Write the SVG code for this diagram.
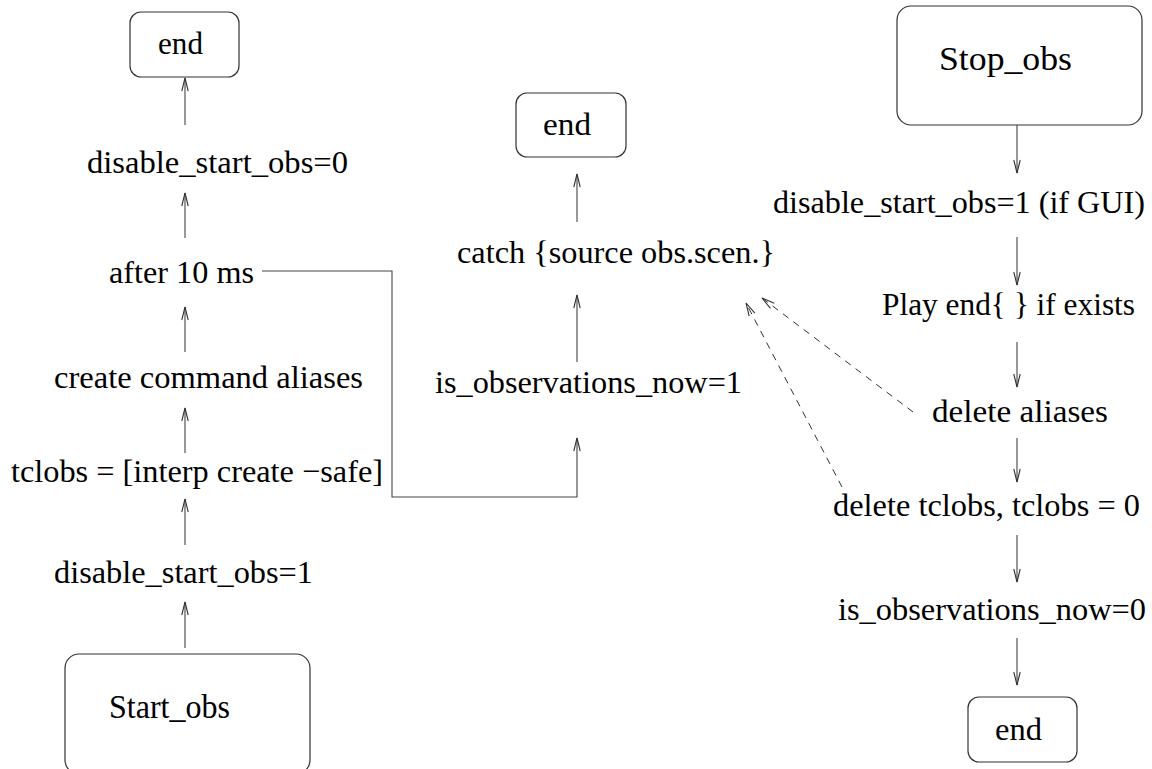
<svg xmlns="http://www.w3.org/2000/svg" width="1152" height="769" viewBox="0 0 1152 769">
<defs>
<style>
.box{fill:none;stroke:#333;stroke-width:1.2}
.t{font-family:'Liberation Serif','Times New Roman',serif;font-size:32px;fill:#000}
.tb{font-family:'Liberation Serif','Times New Roman',serif;font-size:34px;fill:#000}
.c{fill:none;stroke:#444;stroke-width:1.1}
.d{fill:none;stroke:#333;stroke-width:1;stroke-dasharray:7 6}
</style>
<marker id="ah" markerUnits="userSpaceOnUse" markerWidth="16" markerHeight="10" viewBox="-14 -5 16 10" refX="0" refY="0" orient="auto" overflow="visible">
<path d="M-13,-3.2 L0,0 L-13,3.2" fill="none" stroke="#333" stroke-width="1.1"/>
</marker>
</defs>
<rect width="1152" height="769" fill="#fff"/>
<g id="end_left"><rect class="box" x="130" y="12" width="109" height="65" rx="11"/><text class="t" x="158" y="54" textLength="45" lengthAdjust="spacingAndGlyphs">end</text></g>
<g id="n_dso0"><text class="t" x="87" y="173" textLength="261" lengthAdjust="spacingAndGlyphs">disable_start_obs=0</text></g>
<g id="n_after"><text class="t" x="109" y="283" textLength="145" lengthAdjust="spacingAndGlyphs">after 10 ms</text></g>
<g id="n_create"><text class="t" x="54" y="388" textLength="309" lengthAdjust="spacingAndGlyphs">create command aliases</text></g>
<g id="n_tclobs"><text class="t" x="11" y="482" textLength="372" lengthAdjust="spacingAndGlyphs">tclobs = [interp create −safe]</text></g>
<g id="n_dso1"><text class="t" x="54" y="583" textLength="259" lengthAdjust="spacingAndGlyphs">disable_start_obs=1</text></g>
<g id="start_obs"><rect class="box" x="65" y="654" width="245" height="120" rx="14"/><text class="tb" x="109" y="718" textLength="121" lengthAdjust="spacingAndGlyphs">Start_obs</text></g>

<g id="end_mid"><rect class="box" x="516" y="93" width="110" height="64" rx="11"/><text class="t" x="543" y="135" textLength="48" lengthAdjust="spacingAndGlyphs">end</text></g>
<g id="n_catch"><text class="t" x="457" y="263" textLength="318" lengthAdjust="spacingAndGlyphs">catch {source obs.scen.}</text></g>
<g id="n_isobs1"><text class="t" x="435" y="393" textLength="307" lengthAdjust="spacingAndGlyphs">is_observations_now=1</text></g>

<g id="stop_obs"><rect class="box" x="897" y="6" width="245" height="119" rx="14"/><text class="tb" x="939" y="70" textLength="133" lengthAdjust="spacingAndGlyphs">Stop_obs</text></g>
<g id="n_dsogui"><text class="t" x="773" y="213" textLength="372" lengthAdjust="spacingAndGlyphs">disable_start_obs=1 (if GUI)</text></g>
<g id="n_play"><text class="t" x="882" y="315" textLength="253" lengthAdjust="spacingAndGlyphs">Play end{ } if exists</text></g>
<g id="n_delal"><text class="t" x="932" y="422" textLength="176" lengthAdjust="spacingAndGlyphs">delete aliases</text></g>
<g id="n_deltcl"><text class="t" x="833" y="516" textLength="307" lengthAdjust="spacingAndGlyphs">delete tclobs, tclobs = 0</text></g>
<g id="n_isobs0"><text class="t" x="838" y="620" textLength="308" lengthAdjust="spacingAndGlyphs">is_observations_now=0</text></g>
<g id="end_right"><rect class="box" x="968" y="697" width="109" height="65" rx="11"/><text class="t" x="995" y="740" textLength="47" lengthAdjust="spacingAndGlyphs">end</text></g>

<g id="connectors">
<line class="c" x1="185" y1="125" x2="185" y2="78" marker-end="url(#ah)"/>
<line class="c" x1="185" y1="238" x2="185" y2="193" marker-end="url(#ah)"/>
<line class="c" x1="185" y1="352" x2="185" y2="307" marker-end="url(#ah)"/>
<line class="c" x1="185" y1="453" x2="185" y2="408" marker-end="url(#ah)"/>
<line class="c" x1="185" y1="545" x2="185" y2="499" marker-end="url(#ah)"/>
<line class="c" x1="185" y1="648" x2="185" y2="602" marker-end="url(#ah)"/>
<polyline class="c" points="262,271 392,271 392,497 577,497 577,438" marker-end="url(#ah)"/>
<line class="c" x1="577" y1="362" x2="577" y2="295" marker-end="url(#ah)"/>
<line class="c" x1="577" y1="222" x2="577" y2="174" marker-end="url(#ah)"/>
<line class="c" x1="1017" y1="125" x2="1017" y2="173" marker-end="url(#ah)"/>
<line class="c" x1="1017" y1="237" x2="1017" y2="285" marker-end="url(#ah)"/>
<line class="c" x1="1017" y1="342" x2="1017" y2="387" marker-end="url(#ah)"/>
<line class="c" x1="1017" y1="438" x2="1017" y2="482" marker-end="url(#ah)"/>
<line class="c" x1="1017" y1="535" x2="1017" y2="582" marker-end="url(#ah)"/>
<line class="c" x1="1017" y1="638" x2="1017" y2="685" marker-end="url(#ah)"/>
<line class="d" x1="913" y1="412" x2="762" y2="298" marker-end="url(#ah)"/>
<line class="d" x1="842" y1="487" x2="746" y2="303" marker-end="url(#ah)"/>
</g>
</svg>
